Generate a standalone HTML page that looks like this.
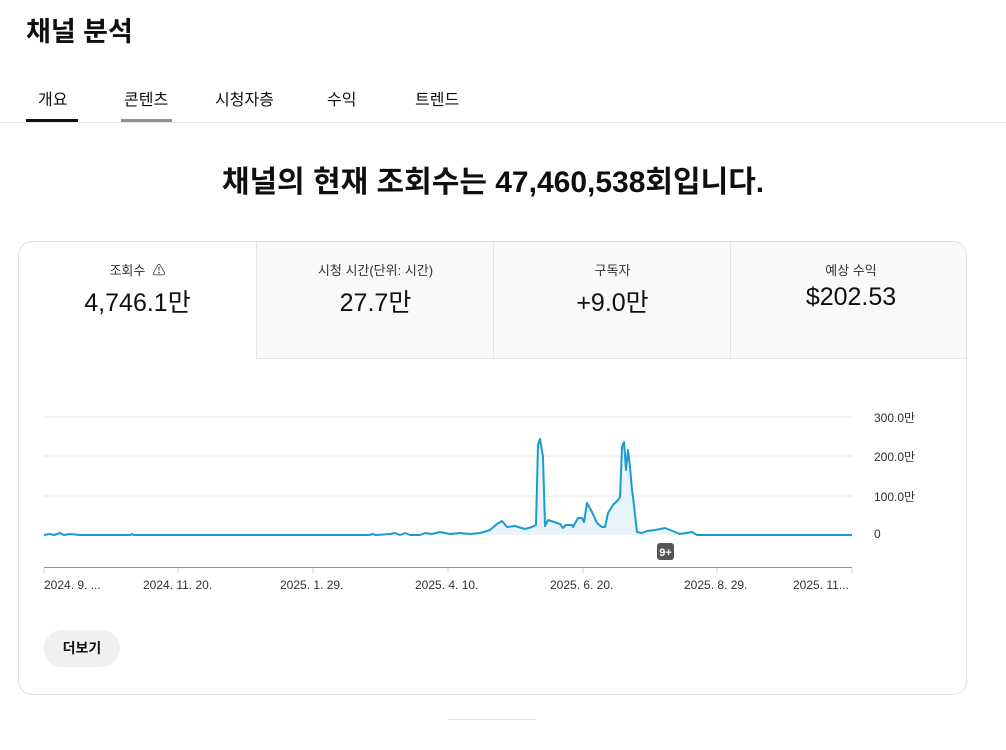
<!DOCTYPE html>
<html><head><meta charset="utf-8"><style>
body{margin:0;width:1006px;height:750px;background:#fff;font-family:"Liberation Sans","Noto Sans CJK KR",sans-serif;color:#0f0f0f;position:relative;overflow:hidden}
.a{position:absolute}
.tab{position:absolute;top:86px;font-size:16px;color:#0f0f0f}
.card{position:absolute;left:18px;top:241px;width:947px;height:452px;border:1px solid #e0e0e0;border-radius:14px;overflow:hidden}
.m{position:absolute;top:0;height:116px;width:237px;text-align:center;background:#f9f9f9;border-left:1px solid #e5e5e5;border-bottom:1px solid #e5e5e5}
.m .l{position:absolute;left:0;right:0;top:18px;font-size:13px;color:#303030}
.m .v{position:absolute;left:0;right:0;top:41px;font-size:25px}
.tk{position:absolute;top:578px;font-size:12px;color:#303030}
.yl{position:absolute;left:874px;font-size:12px;color:#303030}
</style></head><body>
<div class="a" style="left:26px;top:10px;font-size:27px;font-weight:bold">채널 분석</div>
<div class="tab" style="left:38px">개요</div>
<div class="tab" style="left:124px">콘텐츠</div>
<div class="tab" style="left:215px">시청자층</div>
<div class="tab" style="left:327px">수익</div>
<div class="tab" style="left:415px">트렌드</div>
<div class="a" style="left:26px;top:119px;width:52px;height:3px;background:#0f0f0f"></div>
<div class="a" style="left:121px;top:119px;width:51px;height:3px;background:#909090"></div>
<div class="a" style="left:0;top:122px;width:1006px;height:1px;background:#e5e5e5"></div>
<div class="a" style="left:0;top:157px;width:986px;text-align:center;font-size:30px;font-weight:bold;letter-spacing:0px">채널의 현재 조회수는 47,460,538회입니다.</div>
<div class="card">
<div class="m" style="left:0;background:#fff;border:none"><div class="l">조회수 &nbsp;⚠</div><div class="v">4,746.1만</div></div>
<div class="m" style="left:237px"><div class="l">시청 시간(단위: 시간)</div><div class="v">27.7만</div></div>
<div class="m" style="left:474px"><div class="l">구독자</div><div class="v">+9.0만</div></div>
<div class="m" style="left:711px;width:240px"><div class="l">예상 수익</div><div class="v">$202.53</div></div>
</div>
<svg class="a" style="left:0;top:0" width="1006" height="750">
<g stroke="#e5e5e5" stroke-width="1"><line x1="44" y1="417" x2="852" y2="417"/><line x1="44" y1="456" x2="852" y2="456"/><line x1="44" y1="496" x2="852" y2="496"/></g>
<line x1="44" y1="567.5" x2="852" y2="567.5" stroke="#909090"/>
<g stroke="#ccc"><line x1="44" y1="568" x2="44" y2="573"/><line x1="178" y1="568" x2="178" y2="573"/><line x1="313" y1="568" x2="313" y2="573"/><line x1="448" y1="568" x2="448" y2="573"/><line x1="583" y1="568" x2="583" y2="573"/><line x1="717" y1="568" x2="717" y2="573"/><line x1="852" y1="568" x2="852" y2="573"/></g>
<polygon fill="#e8f4fa" points="420,535 425,533 432,534 440,532 450,534 460,533 470,534 480,533 490,530 497,524 502,521 507,527 515,526 525,529 532,527 536,525 538,445 540,439 543,457 545,526 548,520 560,524 563,528 566,525 572,525 573,527 578,518 582,518 584,522 587,503 592,512 597,523 602,527 605,527 608,513 613,505 618,500 620,497 622,447 624,442 626,470 628,450 630,467 632,490 633,497 637,532 642,533 647,531 655,530 665,528 670,530 675,532 680,534 692,532 697,535"/>
<polyline fill="none" stroke="#1a9bd0" stroke-width="2" stroke-linejoin="round" points="44,535 50,534 54,535 60,533 64,535 70,534 80,535 130,535 132,534 134,535 370,535 372,534 376,535 390,534 395,533 400,535 405,533 410,535 420,535 425,533 432,534 440,532 450,534 460,533 470,534 480,533 490,530 497,524 502,521 507,527 515,526 525,529 532,527 536,525 538,445 540,439 543,457 545,526 548,520 560,524 563,528 566,525 572,525 573,527 578,518 582,518 584,522 587,503 592,512 597,523 602,527 605,527 608,513 613,505 618,500 620,497 622,447 624,442 626,470 628,450 630,467 632,490 633,497 637,532 642,533 647,531 655,530 665,528 670,530 675,532 680,534 692,532 697,535 852,535"/>
<rect x="657" y="543" width="17" height="17" rx="3" fill="#555"/>
<text x="665.5" y="556" fill="#fff" font-size="11" font-weight="bold" text-anchor="middle" font-family="Liberation Sans">9+</text>
</svg>
<div class="yl" style="top:409px">300.0만</div>
<div class="yl" style="top:448px">200.0만</div>
<div class="yl" style="top:488px">100.0만</div>
<div class="yl" style="top:527px">0</div>
<div class="tk" style="left:44px">2024. 9. ...</div>
<div class="tk" style="left:143px">2024. 11. 20.</div>
<div class="tk" style="left:280px">2025. 1. 29.</div>
<div class="tk" style="left:415px">2025. 4. 10.</div>
<div class="tk" style="left:550px">2025. 6. 20.</div>
<div class="tk" style="left:684px">2025. 8. 29.</div>
<div class="tk" style="left:793px">2025. 11...</div>
<div class="a" style="left:44px;top:630px;width:76px;height:37px;border-radius:19px;background:#f0f0f0;text-align:center;line-height:37px;font-size:14px;font-weight:bold">더보기</div>
<div class="a" style="left:448px;top:719px;width:88px;height:1px;background:#e0e0e0"></div>
</body></html>
